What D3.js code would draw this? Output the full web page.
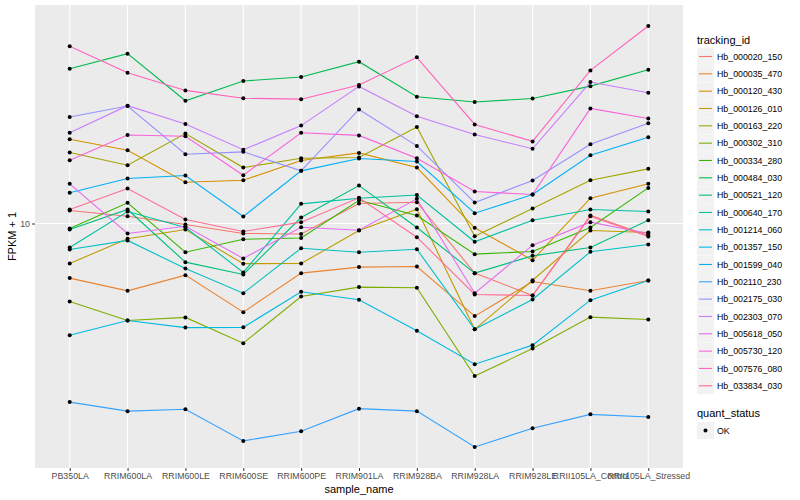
<!DOCTYPE html>
<html>
<head>
<meta charset="utf-8">
<script src="https://cdn.jsdelivr.net/npm/d3@7"></script>
<style>
  body { margin: 0; background: #fff; }
  svg { font-family: "Liberation Sans", Arial, sans-serif; }
</style>
</head>
<body>
<div id="chart"></div>
<script>
// sample names on the x axis
const samples = ["PB350LA", "RRIM600LA", "RRIM600LE", "RRIM600SE", "RRIM600PE", "RRIM901LA",
  "RRIM928BA", "RRIM928LA", "RRIM928LE", "RRII105LA_Control", "RRII105LA_Stressed"];

const trackingIds = ["Hb_000020_150", "Hb_000035_470", "Hb_000120_430", "Hb_000126_010", "Hb_000163_220",
  "Hb_000302_310", "Hb_000334_280", "Hb_000484_030", "Hb_000521_120", "Hb_000640_170",
  "Hb_001214_060", "Hb_001357_150", "Hb_001599_040", "Hb_002110_230", "Hb_002175_030",
  "Hb_002303_070", "Hb_005618_050", "Hb_005730_120", "Hb_007576_080", "Hb_033834_030"];

// FPKM + 1 per gene, one value per sample
const hb000020_150 = [11.33, 10.72, 9.90, 9.09, 9.04, 12.12, 12.27, 6.21, 5.01, 10.80, 8.91];
const hb000035_470 = [5.92, 5.24, 6.09, 4.27, 6.21, 6.58, 6.62, 4.11, 5.73, 5.24, 5.79];
const hb000120_430 = [22.45, 20.2, 14.86, 15.15, 18.3, 19.7, 17.11, 9.60, 7.03, 12.75, 14.64];
const hb000126_010 = [6.81, 8.64, 9.44, 6.80, 6.81, 9.35, 11.47, 3.62, 5.80, 9.35, 9.17];
const hb000163_220 = [19.76, 17.49, 23.71, 17.11, 18.71, 18.84, 25.25, 8.85, 11.55, 15.15, 16.9];
const hb000302_310 = [4.73, 3.94, 4.06, 3.17, 4.96, 5.43, 5.40, 2.31, 3.01, 4.07, 3.98];
const hb000334_280 = [9.53, 12.2, 7.59, 8.60, 8.70, 12.5, 10.8, 7.45, 7.64, 9.62, 14.08];
const hb000484_030 = [44.2, 51.1, 32.5, 39.3, 40.8, 47.3, 33.8, 32.1, 33.2, 37.4, 43.8];
const hb000521_120 = [9.44, 11.44, 6.90, 6.13, 10.59, 14.4, 9.62, 6.21, 7.33, 7.94, 10.32];
const hb000640_170 = [7.94, 11.22, 9.62, 6.25, 12.08, 12.75, 13.14, 8.39, 10.32, 11.44, 11.22];
const hb001214_060 = [7.79, 8.50, 6.49, 5.12, 7.89, 7.59, 7.81, 3.62, 4.82, 7.62, 8.18];
const hb001357_150 = [3.42, 3.94, 3.68, 3.69, 5.19, 4.81, 3.57, 2.59, 3.11, 4.79, 5.79];
const hb001599_040 = [13.43, 15.4, 15.85, 10.70, 16.58, 18.66, 18.13, 11.04, 13.21, 19.26, 22.89];
const hb002110_230 = [1.80, 1.65, 1.68, 1.24, 1.36, 1.69, 1.65, 1.17, 1.40, 1.60, 1.56];
const hb002175_030 = [27.8, 30.9, 19.44, 19.9, 16.58, 29.9, 21.07, 12.23, 15.11, 21.4, 26.18];
const hb002303_070 = [23.9, 31.0, 26.0, 20.3, 25.6, 37.3, 28.0, 23.5, 20.5, 38.9, 35.1];
const hb005618_050 = [14.64, 9.09, 9.74, 7.15, 9.65, 9.38, 12.67, 5.12, 8.12, 10.13, 9.09];
const hb005730_120 = [18.36, 23.4, 23.1, 15.9, 23.9, 23.3, 18.71, 13.59, 13.21, 30.2, 27.4];
const hb007576_080 = [54.8, 42.5, 35.9, 33.3, 33.0, 37.8, 49.3, 25.9, 22.0, 43.5, 66.6];
const hb033834_030 = [11.44, 13.99, 10.39, 9.26, 10.13, 12.80, 8.77, 5.06, 5.01, 10.72, 8.83];

const seriesValues = [hb000020_150, hb000035_470, hb000120_430, hb000126_010, hb000163_220,
  hb000302_310, hb000334_280, hb000484_030, hb000521_120, hb000640_170,
  hb001214_060, hb001357_150, hb001599_040, hb002110_230, hb002175_030,
  hb002303_070, hb005618_050, hb005730_120, hb007576_080, hb033834_030];

const yTicks = [10];
const quantStatus = ["OK"];

// ggplot default hue palette for 20 groups
const colors = ["#F8766D", "#EA8331", "#D89000", "#C09B00", "#A3A500", "#7CAE00", "#39B600",
  "#00BB4E", "#00BF7D", "#00C1A3", "#00BFC4", "#00BAE0", "#00B0F6", "#35A2FF", "#9590FF",
  "#C77CFF", "#E76BF3", "#FA62DB", "#FF62BC", "#FF6C91"];

const width = 800, height = 500;
const panel = { left: 35, right: 683, top: 5, bottom: 468 };

const series = trackingIds.map((id, i) => ({
  id: id,
  color: colors[i],
  values: samples.map((s, j) => ({ sample: s, value: seriesValues[i][j] }))
}));

const svg = d3.select("#chart").append("svg")
  .attr("width", width)
  .attr("height", height);

svg.append("rect")
  .attr("x", panel.left).attr("y", panel.top)
  .attr("width", panel.right - panel.left)
  .attr("height", panel.bottom - panel.top)
  .attr("fill", "#EBEBEB");

const x = d3.scalePoint()
  .domain(samples)
  .range([panel.left, panel.right])
  .padding(0.6);

// log scale with ggplot-like 5% expansion
const allVals = seriesValues.flat();
const lo = Math.log10(d3.min(allVals)), hi = Math.log10(d3.max(allVals));
const pad = (hi - lo) * 0.05;
const y = d3.scaleLog()
  .domain([Math.pow(10, lo - pad), Math.pow(10, hi + pad)])
  .range([panel.bottom, panel.top]);

// grid
const grid = svg.append("g");
grid.selectAll("line.v").data(samples).enter().append("line")
  .attr("x1", d => x(d)).attr("x2", d => x(d))
  .attr("y1", panel.top).attr("y2", panel.bottom)
  .attr("stroke", "#fff").attr("stroke-width", 1.1);
grid.selectAll("line.h").data(yTicks).enter().append("line")
  .attr("x1", panel.left).attr("x2", panel.right)
  .attr("y1", d => y(d)).attr("y2", d => y(d))
  .attr("stroke", "#fff").attr("stroke-width", 1.1);

// lines
const line = d3.line()
  .x(d => x(d.sample))
  .y(d => y(d.value));

svg.append("g").selectAll("path").data(series).enter().append("path")
  .attr("d", d => line(d.values))
  .attr("fill", "none")
  .attr("stroke", d => d.color)
  .attr("stroke-width", 1.1);

// points
svg.append("g").selectAll("g").data(series).enter().append("g")
  .selectAll("circle").data(d => d.values).enter().append("circle")
  .attr("cx", d => x(d.sample))
  .attr("cy", d => y(d.value))
  .attr("r", 2)
  .attr("fill", "#000");

// axes
const xAxis = d3.axisBottom(x).tickSize(3).tickPadding(2);
const gx = svg.append("g")
  .attr("transform", `translate(0,${panel.bottom})`)
  .call(xAxis);
gx.select(".domain").remove();
gx.selectAll(".tick line").attr("stroke", "#333333");
gx.selectAll(".tick text")
  .attr("fill", "#4D4D4D")
  .style("font-size", "8.8px");

const yAxis = d3.axisLeft(y).tickValues(yTicks).tickFormat(d3.format("d")).tickSize(3).tickPadding(2);
const gy = svg.append("g")
  .attr("transform", `translate(${panel.left},0)`)
  .call(yAxis);
gy.select(".domain").remove();
gy.selectAll(".tick line").attr("stroke", "#333333");
gy.selectAll(".tick text")
  .attr("fill", "#4D4D4D")
  .style("font-size", "8.8px");

svg.append("text")
  .attr("x", (panel.left + panel.right) / 2)
  .attr("y", 493)
  .attr("text-anchor", "middle")
  .style("font-size", "11px")
  .text("sample_name");

svg.append("text")
  .attr("transform", `translate(16,${(panel.top + panel.bottom) / 2}) rotate(-90)`)
  .attr("text-anchor", "middle")
  .style("font-size", "11px")
  .text("FPKM + 1");

// legend
const legend = svg.append("g").attr("transform", "translate(697,0)");
legend.append("text")
  .attr("x", 0).attr("y", 44)
  .style("font-size", "11px")
  .text("tracking_id");

const keyH = 17.33, key0 = 48;
const items = legend.selectAll("g.item").data(series).enter().append("g")
  .attr("transform", (d, i) => `translate(0,${key0 + i * keyH})`);
items.append("rect")
  .attr("width", 17).attr("height", 17)
  .attr("fill", "#F2F2F2");
items.append("line")
  .attr("x1", 2).attr("x2", 15)
  .attr("y1", 8.5).attr("y2", 8.5)
  .attr("stroke", d => d.color)
  .attr("stroke-width", 1.1);
items.append("text")
  .attr("x", 20).attr("y", 8.5)
  .attr("dy", "0.35em")
  .style("font-size", "8.8px")
  .text(d => d.id);

legend.append("text")
  .attr("x", 0).attr("y", 417)
  .style("font-size", "11px")
  .text("quant_status");

const q = legend.selectAll("g.q").data(quantStatus).enter().append("g")
  .attr("transform", (d, i) => `translate(0,${422 + i * keyH})`);
q.append("rect")
  .attr("width", 17).attr("height", 17)
  .attr("fill", "#F2F2F2");
q.append("circle")
  .attr("cx", 8.5).attr("cy", 8.5).attr("r", 2)
  .attr("fill", "#000");
q.append("text")
  .attr("x", 20).attr("y", 8.5)
  .attr("dy", "0.35em")
  .style("font-size", "8.8px")
  .text(d => d);
</script>
</body>
</html>
